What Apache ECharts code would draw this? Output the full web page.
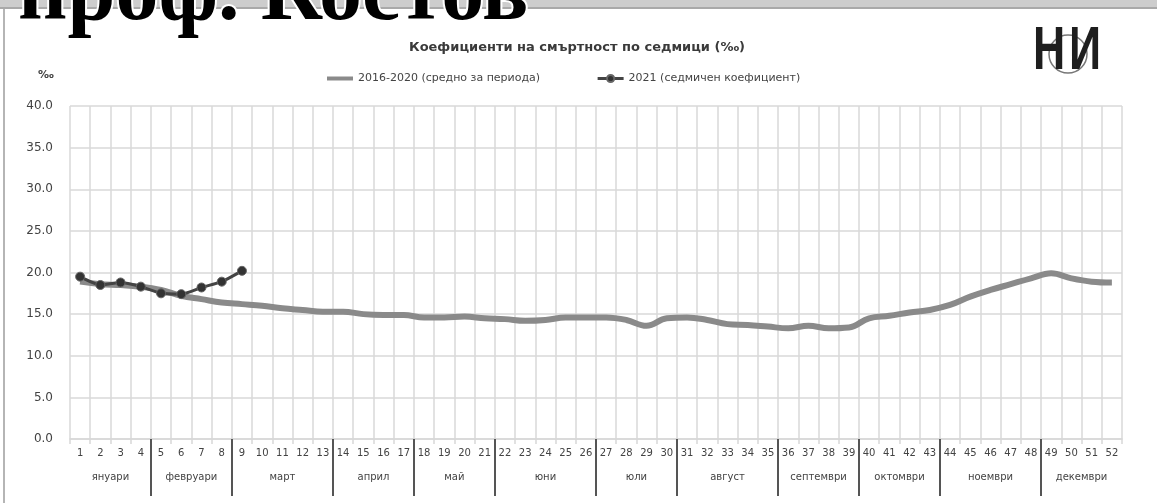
<!DOCTYPE html>
<html><head><meta charset="utf-8">
<script src="https://cdn.jsdelivr.net/npm/echarts@6/dist/echarts.min.js"></script>
<style>html,body{margin:0;padding:0;background:#fff}#c{width:1157px;height:503px}</style>
</head><body><div id="c"></div>
<script>
// ---- data ----
const weekLabels = ['1','2','3','4','5','6','7','8','9','10','11','12','13','14','15','16','17','18','19','20','21','22','23','24','25','26','27','28','29','30','31','32','33','34','35','36','37','38','39','40','41','42','43','44','45','46','47','48','49','50','51','52'];
const avg2016_2020 = [18.9,18.6,18.5,18.3,17.9,17.2,16.8,16.4,16.2,16.0,15.7,15.5,15.3,15.3,15.0,14.9,14.9,14.6,14.6,14.7,14.5,14.4,14.2,14.3,14.6,14.6,14.6,14.3,13.6,14.5,14.6,14.3,13.8,13.7,13.5,13.3,13.6,13.3,13.4,14.5,14.8,15.2,15.5,16.1,17.1,17.9,18.6,19.3,19.9,19.3,18.9,18.8];
const weekly2021 = [19.5,18.5,18.8,18.3,17.5,17.4,18.2,18.9,20.2];
const months = ['януари','февруари','март','април','май','юни','юли','август','септември','октомври','ноември','декември'];
const monthLastWeek = [4,8,13,17,21,26,30,35,39,43,48,52];
const seriesNames = ['2016-2020 (средно за периода)','2021 (седмичен коефициент)'];
const titleText = 'Коефициенти на смъртност по седмици (‰)';

// month axis: 105 half-week positions (boundaryGap false)
const monthAxis = new Array(105).fill('');
const sepIdx = new Set();
let prev = 0;
months.forEach((m, i) => {
  const last = monthLastWeek[i];
  monthAxis[prev + last] = m;
  if (last < 52) sepIdx.add(2 * last);
  prev = last;
});

const FF = 'DejaVu Sans';
const TXT = '#434343';
const GRID = '#d8d8d8';

const chart = echarts.init(document.getElementById('c'), null, {renderer: 'canvas'});
chart.setOption({
  animation: false,
  backgroundColor: '#fff',
  title: {
    text: titleText, left: 404, top: 36,
    textStyle: {fontFamily: FF, fontSize: 13, fontWeight: 'bold', color: '#3a3a3a'}
  },
  legend: {
    left: 320, top: 68, itemGap: 56, itemWidth: 26, itemHeight: 9,
    textStyle: {fontFamily: FF, fontSize: 11, color: TXT},
    data: [
      {name: seriesNames[0], itemStyle: {opacity: 0}, lineStyle: {width: 4, color: '#8a8a8a'}},
      {name: seriesNames[1], lineStyle: {width: 3, color: '#444'}}
    ]
  },
  grid: {left: 70, right: 35, top: 106, bottom: 64, containLabel: false},
  xAxis: [{
    type: 'category', data: weekLabels, boundaryGap: true, position: 'bottom',
    axisLine: {show: true, lineStyle: {color: GRID, width: 1.5}},
    axisTick: {show: true, length: 5, lineStyle: {color: GRID, width: 1.5}},
    splitLine: {show: true, lineStyle: {color: GRID, width: 1.5}},
    axisLabel: {interval: 0, margin: 9, fontFamily: FF, fontSize: 10, color: TXT}
  }, {
    type: 'category', data: monthAxis, boundaryGap: false, position: 'bottom', gridIndex: 0,
    axisLine: {show: false},
    axisTick: {show: true, length: 57, interval: (i) => sepIdx.has(i), lineStyle: {color: '#555', width: 2}},
    splitLine: {show: false},
    axisLabel: {interval: 0, margin: 33, fontFamily: FF, fontSize: 10, color: TXT}
  }],
  yAxis: {
    type: 'value', min: 0, max: 40, interval: 5,
    axisLine: {show: false}, axisTick: {show: false},
    splitLine: {show: true, lineStyle: {color: GRID, width: 1.5}},
    axisLabel: {margin: 17, fontFamily: FF, fontSize: 12, color: TXT, formatter: v => v.toFixed(1)}
  },
  series: [{
    name: seriesNames[0], type: 'line', data: avg2016_2020, smooth: 0.4,
    symbol: 'none', lineStyle: {color: '#8a8a8a', width: 6}, itemStyle: {color: '#8a8a8a'}, z: 2
  }, {
    name: seriesNames[1], type: 'line', data: weekly2021, smooth: 0.2,
    symbol: 'circle', symbolSize: 9,
    lineStyle: {color: '#444', width: 3},
    itemStyle: {color: '#333', borderColor: '#666', borderWidth: 1}, z: 3
  }],
  graphic: [
    {type: 'rect', shape: {x: 0, y: 0, width: 1157, height: 7}, style: {fill: '#cdcdcd'}, z: 0},
    {type: 'rect', shape: {x: 0, y: 7, width: 1157, height: 2}, style: {fill: '#a9a9a9'}, z: 0},
    {type: 'rect', shape: {x: 3, y: 9, width: 2, height: 494}, style: {fill: '#b5b5b5'}, z: 0},
    {type: 'text', x: 18, y: -3, z: 10, style: {text: 'проф. Костов', font: 'bold 86px "Liberation Serif"', fill: '#000', stroke: '#fff', lineWidth: 4, verticalAlign: 'middle', align: 'left'}},
    {type: 'text', x: 46, y: 75, z: 10, style: {text: '‰', font: 'bold 11px "DejaVu Sans"', fill: TXT, align: 'center', verticalAlign: 'middle'}},
    {type: 'circle', shape: {cx: 1068, cy: 54, r: 19}, style: {fill: 'none', stroke: '#777', lineWidth: 1.5}, z: 10},
    {type: 'text', x: 1033, y: 52, scaleX: 0.72, z: 11, style: {text: 'Н', font: 'bold 62px "Liberation Sans"', fill: '#1e1e1e', verticalAlign: 'middle', align: 'left'}},
    {type: 'text', x: 1069, y: 52, scaleX: 0.72, z: 11, style: {text: 'И', font: 'bold 62px "Liberation Sans"', fill: '#1e1e1e', verticalAlign: 'middle', align: 'left'}}
  ]
});
</script></body></html>
